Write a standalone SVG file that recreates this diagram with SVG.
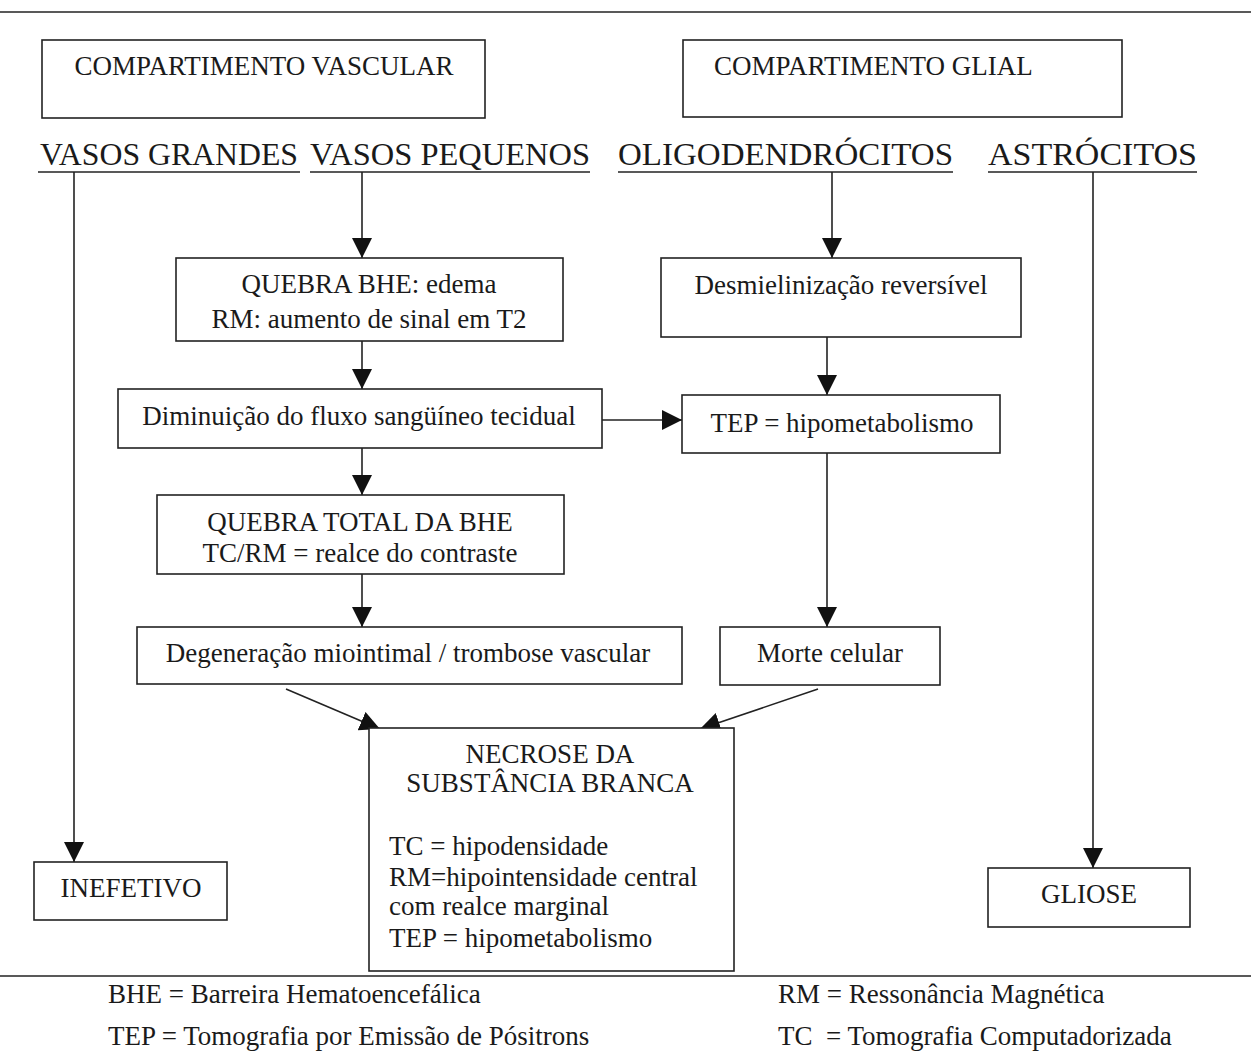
<svg xmlns="http://www.w3.org/2000/svg" width="1251" height="1053" viewBox="0 0 1251 1053">
<style>
text{font-family:"Liberation Serif","Times New Roman",serif;fill:#1a1a1a}
.b{fill:#fff;stroke:#222;stroke-width:1.6}
.t{font-size:27px}
.h{font-size:32.5px}
.c{text-anchor:middle}
.l{stroke:#222;stroke-width:1.6;fill:none}
.a{stroke:#222;stroke-width:1.6;fill:none;marker-end:url(#ah)}
</style>
<defs>
<marker id="ah" markerUnits="userSpaceOnUse" markerWidth="20" markerHeight="22" refX="20" refY="10" orient="auto">
<path d="M0,0 L20,10 L0,20 Z" fill="#111"/>
</marker>
</defs>
<rect width="1251" height="1053" fill="#fff"/>
<line class="l" x1="0" y1="12" x2="1251" y2="12"/>
<line class="l" x1="0" y1="976" x2="1251" y2="976"/>

<g id="connectors">
<line class="a" x1="74" y1="172" x2="74" y2="862"/>
<line class="a" x1="362" y1="172" x2="362" y2="258"/>
<line class="a" x1="832" y1="172" x2="832" y2="258"/>
<line class="a" x1="1093" y1="172" x2="1093" y2="868"/>
<line class="a" x1="362" y1="341" x2="362" y2="389"/>
<line class="a" x1="827" y1="337" x2="827" y2="395"/>
<line class="a" x1="602" y1="420" x2="682" y2="420"/>
<line class="a" x1="362" y1="448" x2="362" y2="495"/>
<line class="a" x1="362" y1="574" x2="362" y2="627"/>
<line class="a" x1="827" y1="453" x2="827" y2="627"/>
<line class="a" x1="286" y1="689" x2="380" y2="729"/>
<line class="a" x1="818" y1="689" x2="700" y2="729"/>
</g>

<g id="comp-vascular"><rect class="b" x="42" y="40" width="443" height="78"/><text class="t c" x="264" y="75">COMPARTIMENTO VASCULAR</text></g>
<g id="comp-glial"><rect class="b" x="683" y="40" width="439" height="77"/><text class="t" x="714" y="75">COMPARTIMENTO GLIAL</text></g>

<g id="h-vg"><text class="h" x="40" y="165" textLength="258" lengthAdjust="spacingAndGlyphs">VASOS GRANDES</text><line class="l" x1="38" y1="172" x2="300" y2="172"/></g>
<g id="h-vp"><text class="h" x="310" y="165" textLength="280" lengthAdjust="spacingAndGlyphs">VASOS PEQUENOS</text><line class="l" x1="310" y1="172" x2="590" y2="172"/></g>
<g id="h-oligo"><text class="h" x="618" y="165" textLength="335" lengthAdjust="spacingAndGlyphs">OLIGODENDRÓCITOS</text><line class="l" x1="618" y1="172" x2="953" y2="172"/></g>
<g id="h-astro"><text class="h" x="988" y="165" textLength="209" lengthAdjust="spacingAndGlyphs">ASTRÓCITOS</text><line class="l" x1="988" y1="172" x2="1197" y2="172"/></g>

<g id="quebra-bhe"><rect class="b" x="176" y="258" width="387" height="83"/>
<text class="t c" x="369" y="293">QUEBRA BHE: edema</text>
<text class="t c" x="369" y="328">RM: aumento de sinal em T2</text></g>

<g id="desmielinizacao"><rect class="b" x="661" y="258" width="360" height="79"/>
<text class="t c" x="841" y="294">Desmielinização reversível</text></g>

<g id="diminuicao"><rect class="b" x="118" y="389" width="484" height="59"/>
<text class="t c" x="359" y="425">Diminuição do fluxo sangüíneo tecidual</text></g>

<g id="tep"><rect class="b" x="682" y="395" width="318" height="58"/>
<text class="t c" x="842" y="432">TEP = hipometabolismo</text></g>

<g id="quebra-total"><rect class="b" x="157" y="495" width="407" height="79"/>
<text class="t c" x="360" y="531">QUEBRA TOTAL DA BHE</text>
<text class="t c" x="360" y="562">TC/RM = realce do contraste</text></g>

<g id="degeneracao"><rect class="b" x="137" y="627" width="545" height="57"/>
<text class="t c" x="408" y="662">Degeneração miointimal / trombose vascular</text></g>

<g id="morte"><rect class="b" x="720" y="627" width="220" height="58"/>
<text class="t c" x="830" y="662">Morte celular</text></g>

<g id="necrose"><rect class="b" x="369" y="728" width="365" height="243"/>
<text class="t c" x="550" y="763">NECROSE DA</text>
<text class="t c" x="550" y="792">SUBSTÂNCIA BRANCA</text>
<text class="t" x="389" y="855">TC = hipodensidade</text>
<text class="t" x="389" y="886">RM=hipointensidade central</text>
<text class="t" x="389" y="915">com realce marginal</text>
<text class="t" x="389" y="947">TEP = hipometabolismo</text></g>

<g id="inefetivo"><rect class="b" x="34" y="862" width="193" height="58"/>
<text class="t c" x="131" y="897">INEFETIVO</text></g>

<g id="gliose"><rect class="b" x="988" y="868" width="202" height="59"/>
<text class="t c" x="1089" y="903">GLIOSE</text></g>

<g id="legend">
<text class="t" x="108" y="1003">BHE = Barreira Hematoencefálica</text>
<text class="t" x="108" y="1045">TEP = Tomografia por Emissão de Pósitrons</text>
<text class="t" x="778" y="1003">RM = Ressonância Magnética</text>
<text class="t" x="778" y="1045" xml:space="preserve">TC  = Tomografia Computadorizada</text>
</g>
</svg>
